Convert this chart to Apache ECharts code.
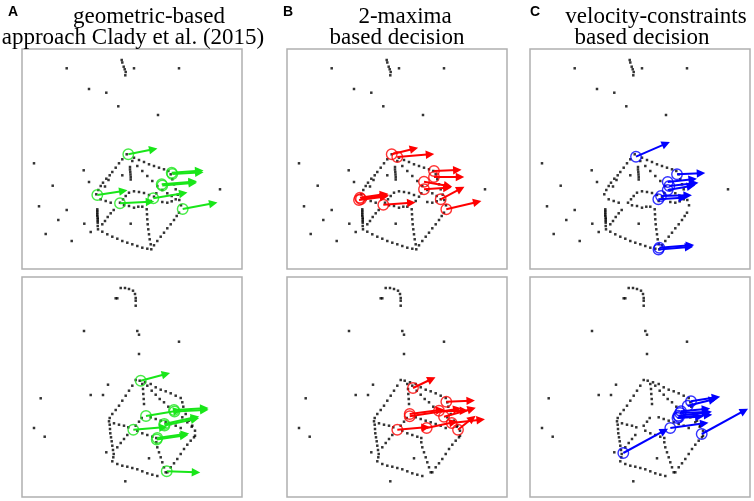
<!DOCTYPE html>
<html>
<head>
<meta charset="utf-8">
<script src="https://cdn.jsdelivr.net/npm/echarts@6/dist/echarts.min.js"></script>
<style>
html,body{margin:0;padding:0;background:#fff;}
#chart{width:754px;height:501px;}
</style>
</head>
<body>
<div id="chart"></div>
<script>
// ---- panel titles ----
const panelLetters = ['A', 'B', 'C'];
const titleLine1 = ['geometric-based', '2-maxima', 'velocity-constraints'];
const titleLine2 = ['approach Clady et al. (2015)', 'based decision', 'based decision'];

// ---- event dots (panel-local pixel-like units, 0..220, y downward) ----
const topDots = [
  [44.7,19.3],[99.7,11],[100.3,13.5],[101.7,17.7],[102.7,20.3],[103.7,23],[103.3,26.3],[112,19.3],[157,19.3],
  [67,40],[84.3,43.7],[96.3,57.3],[136,66],[12,114.3],[198,140.3],[30.7,136.7],[61.7,121.3],[67,133],
  [17,157.3],[44.7,161],[36.3,171],[62.3,174.7],[23.7,185],[49.7,192],[68.7,183],[108.7,174.7],[100.3,126.3],
  [104.7,105.3],[100.3,110.3],[97,114.3],[93.7,118.7],[90.3,123],[87.7,126.3],[84.3,129.7],[81,133.7],[78.7,137],[76.3,141],[74.3,145.3],[86.5,131],[83,137.5],
  [108,118],[108,120.5],[108.3,123],[108.5,125.5],[108.7,128],[108.7,130.5],
  [112,108.7],[117,111],[122,113],[127,115.3],[132,117],[137,118.7],[142,120.3],[146.3,122],
  [110.3,112],[115.3,117],[120.3,122],[125.3,127],[130.3,132],[135.3,137],[140.3,141],[145.3,144.3],[149.7,147],[153.7,150.3],
  [148.7,125.3],[150.3,130.3],[152,135.3],[153.7,140.3],[155.7,145.7],[157.3,151],[159,156.3],
  [78.7,150.3],[83.7,152],[88.7,153.7],[102,156.3],[107,157],[112,158.7],[116.3,157.7],[120.3,157.7],
  [128.7,152],[132,147.7],[134.3,144.3],[140.3,153],[145.3,153.7],[149.7,152.3],
  [124.7,160.3],[125,165.3],[125.3,170.3],[125.7,175.3],[126.3,180.3],[127,185.3],[127.7,190.3],[128.7,195.3],
  [75.3,160.3],[75.3,162],[75.3,163.7],[75.3,165.5],[75.3,167],[75.7,168.7],[75.7,170.3],[75.7,172],[75.7,173.7],[75.7,177],[76,180.3],
  [80.3,182.7],[85.3,185.3],[90.3,187.7],[95.3,189.7],[100.3,192],[105.3,193.7],[110.3,195.3],[115.3,197],[120.3,198.7],[125.3,199.7],[129.3,200.3],
  [132,196.3],[135.3,192],[138.7,187.7],[142,183.7],[145.3,179.3],[148.7,175.3],[152,171],[154.7,167],[157,163.7],
  [80.3,175.3],[83,172],[85.7,168],[88.7,164.3],[91.7,161],[98,153.7],[101,150.3],[103.7,147],[107,143.7],
  [112,142.3],[117,143],[122,144],[127,146]
];
const bottomDots = [
  [98.7,11],[103,11],[107,12],[111,13.7],[113,17],[113.7,21],[113.7,23.7],[113.7,28.7],[93.7,21.3],[95.3,21.3],
  [62,54],[115.3,54],[117,57.7],[157,64.7],[117,77],[86,107.7],[68.7,118],[81,118],[18.7,121.3],[12,151],
  [22.7,159.7],[84.3,175.3],[127,181.3],[103.3,204.3],
  [113.7,103],[110.3,108.7],[107,113.7],[103.7,118.7],[100.3,123.7],[97,128.7],[93.7,133],[90.3,137],[87.7,141],[87,144.3],
  [117.7,103.7],[123,105.3],[128.7,107],[133.7,110.3],[138.7,112.7],[143.7,114.3],[148.7,116.3],[153.7,118.7],[158.7,121],
  [160.3,125.3],[161.3,129.7],[163.7,137],[167,143.7],[170.3,148.7],[173,153.7],[173,158.7],
  [120.3,107],[121,112],[121.3,117],[121.7,122],[122,127],
  [125.3,108.7],[129.7,113.7],[133.7,117.7],[137.7,122],[142,125.3],[146.3,129.7],[160.3,140.3],[165.3,145.3],[169.7,149.7],
  [87.7,147.7],[88,152],[88.3,156.3],[89,160.3],[89.7,164.3],[90.3,168.7],[91,173],[91.7,177],[91.3,180.3],
  [92,146.3],[97,147.7],[102,148.7],[106.3,150.3],[115.3,153.7],[120.3,156.3],[125.3,158],[130.3,159.7],[134.3,161],
  [134.3,165.3],[135.3,170.3],[137,175.3],[138.7,180.3],[140.3,185.3],[142,190.3],[143.7,195.3],
  [95.3,170.3],[98.7,166],[102,162],[105.3,158],[113.7,148.7],[117,144.7],[119.7,141],
  [128.7,140.3],[133.7,142],[138.7,143.7],[143.7,145.3],[148.7,147],[153.7,148.7],[158.7,151],
  [90.3,184.3],[95.3,187],[100.3,188.7],[105.3,189.7],[110.3,191],[115.3,192.3],[120.3,194.3],[125.3,196.3],[130.3,197.7],[135.3,199],
  [145.3,195.3],[148.7,190.3],[152,186.3],[155.3,182],[158.7,177],[162,172],[165.3,167.7],[168.7,163.7],[172,160.3]
];

// ---- flow arrows [x0, y0, x1, y1]; a circle marks each start ----
const arrowsTopA = [
  [106.3,105.3,131.3,100.3],[149.7,123.7,177.3,121.7],[150.3,125,177.3,123.5],[139.7,135.3,170.7,132.7],
  [140.3,136.5,170.7,134],[75.3,146,101.3,142],[98,154.3,128,152.7],[131.3,149.3,161.3,144.3],[160.7,160,191.3,154.3]
];
const arrowsTopB = [
  [104.7,105.3,127,99.7],[110.3,108,143,105.3],[73,148.7,97,145.3],[72,151,97,147.7],[74,150,98,146.5],
  [96.3,155.7,124.3,153.7],[147,122,170.3,121],[147,128,173,128],[137,132.7,161,137],[137,140.3,160.3,138.7],
  [153.7,150.3,173.7,139.7],[159.3,160.3,190.3,153]
];
const arrowsTopC = [
  [106,107.7,136,94.7],[147,125.3,171,124.3],[137.7,133,162.7,130.3],[139.3,137,164.3,134.3],[137.7,141,161,137],
  [131,147,157.7,146.3],[128.3,150.3,152.7,148.7],[129.3,198.7,160,196.3],[128.5,200.5,159,198]
];
const arrowsBottomA = [
  [118.7,103.7,144,97],[152,133,182.3,131.3],[152.5,134.5,182.3,133],[124,139,155.3,133.7],[142.3,147,173,140.3],
  [142.5,148.5,173,142],[111.3,152.7,141.3,150.3],[135.3,161,163,157],[134.7,162.5,162,158.5],[144.7,194.3,174,195.3]
];
const arrowsBottomB = [
  [126,111,144.7,102],[159.3,124.7,183.7,123.7],[122.7,137,153,133],[122.7,139.3,170.3,132],[152,133.7,177,133.7],
  [157,139.7,184.7,132],[164.7,146,193.7,142.7],[139.7,151,166.3,145.3],[110.3,152.7,138.7,150.3],[171,152.7,185.3,141.3]
];
const arrowsBottomC = [
  [161,124.3,186,120.3],[157.7,128.7,183,122.5],[151,134.3,176,132],[148.3,138.7,177.7,135.3],[147.5,141,169.3,139.7],
  [150,136,176,135],[149,140,178,138],[140.3,151,174.3,146.3],[171.7,157,214.3,133.7],[93.3,176,134.3,153.7]
];

const colors = ['#19e619', '#ff0000', '#0000ff'];

// ---- layout ----
const colLeft = [22, 287, 530];
const rowTop = [49, 277];
const boxW = 220, boxH = 220;

const panels = [
  {row:0, col:0, dots:topDots, arrows:arrowsTopA},
  {row:0, col:1, dots:topDots, arrows:arrowsTopB},
  {row:0, col:2, dots:topDots, arrows:arrowsTopC},
  {row:1, col:0, dots:bottomDots, arrows:arrowsBottomA},
  {row:1, col:1, dots:bottomDots, arrows:arrowsBottomB},
  {row:1, col:2, dots:bottomDots, arrows:arrowsBottomC}
];

const grid = [], xAxis = [], yAxis = [], series = [];
panels.forEach((p, i) => {
  grid.push({left: colLeft[p.col], top: rowTop[p.row], width: boxW, height: boxH,
    show: true, borderColor: '#b0b0b0', borderWidth: 1.5, backgroundColor: '#fff'});
  xAxis.push({gridIndex: i, type: 'value', min: 0, max: 220, show: false});
  yAxis.push({gridIndex: i, type: 'value', min: 0, max: 220, inverse: true, show: false});
  const c = colors[p.col];
  series.push({type: 'scatter', xAxisIndex: i, yAxisIndex: i, data: p.dots,
    symbol: 'rect', symbolSize: 2.5, itemStyle: {color: '#000'}, silent: true, z: 2});
  series.push({type: 'lines', coordinateSystem: 'cartesian2d', xAxisIndex: i, yAxisIndex: i,
    data: p.arrows.map(a => ({coords: [[a[0], a[1]], [a[2], a[3]]]})),
    symbol: ['none', 'triangle'], symbolSize: 8.5,
    lineStyle: {color: c, width: 2, opacity: 1, curveness: 0}, silent: true, z: 3});
  series.push({type: 'scatter', xAxisIndex: i, yAxisIndex: i,
    data: p.arrows.map(a => [a[0], a[1]]),
    symbol: 'circle', symbolSize: 10.5,
    itemStyle: {color: 'rgba(0,0,0,0)', borderColor: c, borderWidth: 1.4}, silent: true, z: 4});
});

const titleCenters1 = [149, 405, 656];
const titleCenters2 = [133, 397, 642];
const letterX = [8, 283, 530];
const graphic = [];
for (let k = 0; k < 3; k++) {
  graphic.push({type: 'text', x: letterX[k], y: 12, style: {text: panelLetters[k],
    font: 'bold 14px "Liberation Sans", Arial, sans-serif', fill: '#000', textAlign: 'left', verticalAlign: 'middle'}});
  graphic.push({type: 'text', x: titleCenters1[k], y: 17, style: {text: titleLine1[k],
    font: '23px "Liberation Serif", "Times New Roman", serif', fill: '#000', textAlign: 'center', verticalAlign: 'middle'}});
  graphic.push({type: 'text', x: titleCenters2[k], y: 38, style: {text: titleLine2[k],
    font: '23px "Liberation Serif", "Times New Roman", serif', fill: '#000', textAlign: 'center', verticalAlign: 'middle'}});
}

const chart = echarts.init(document.getElementById('chart'), null, {renderer: 'canvas'});
chart.setOption({
  animation: false,
  backgroundColor: '#fff',
  grid, xAxis, yAxis, series, graphic
});
</script>
</body>
</html>
